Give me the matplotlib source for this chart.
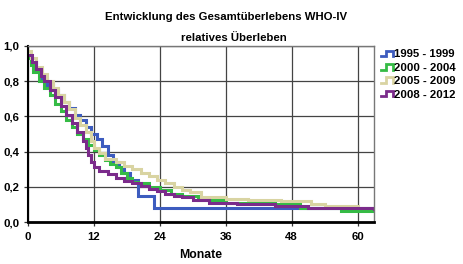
import matplotlib
matplotlib.use("Agg")
import matplotlib.pyplot as plt
from matplotlib.lines import Line2D
from matplotlib.legend_handler import HandlerBase

plt.rcParams['font.family'] = ['Liberation Sans', 'DejaVu Sans']
plt.rcParams['font.weight'] = 'bold'

# Kaplan-Meier style step data (months, relative survival)
t_1995 = [0, 0.5, 1.5, 2.5, 3.5, 4.5, 5.5, 6.5, 7.5, 8.5, 9.5, 10.5, 11.5,
          12.5, 13.5, 14.5, 15.5, 16.5, 17.5, 18.5, 20, 23, 63]
s_1995 = [0.95, 0.91, 0.86, 0.81, 0.78, 0.75, 0.72, 0.68, 0.65, 0.61, 0.58,
          0.54, 0.50, 0.47, 0.43, 0.38, 0.34, 0.31, 0.28, 0.24, 0.15, 0.08, 0.08]

t_2000 = [0, 0.5, 1, 2, 3, 4, 5, 6, 7, 8, 9, 10, 11, 12, 13, 14, 15, 16, 17,
          18, 19, 20, 22, 24, 26, 28, 31, 36, 45, 49.5, 57, 63]
s_2000 = [0.93, 0.89, 0.85, 0.80, 0.76, 0.72, 0.67, 0.63, 0.58, 0.54, 0.50,
          0.47, 0.44, 0.41, 0.38, 0.35, 0.33, 0.31, 0.28, 0.25, 0.23, 0.22,
          0.20, 0.18, 0.16, 0.145, 0.125, 0.11, 0.10, 0.08, 0.065, 0.065]

t_2005 = [0, 0.5, 1.5, 2.5, 3.5, 4.5, 5.5, 6.5, 7.5, 8.5, 9.5, 10.5, 11.5,
          12, 13, 14, 16, 17.5, 19, 20.5, 22, 23.5, 25, 26.5, 28, 29.5, 31.5,
          36, 40, 46, 51.5, 54, 60, 63]
s_2005 = [0.97, 0.93, 0.88, 0.84, 0.80, 0.76, 0.72, 0.68, 0.64, 0.59, 0.55,
          0.51, 0.46, 0.42, 0.39, 0.36, 0.34, 0.32, 0.30, 0.28, 0.26, 0.24,
          0.22, 0.20, 0.18, 0.17, 0.14, 0.13, 0.125, 0.12, 0.10, 0.09, 0.08, 0.08]

t_2008 = [0, 0.7, 1.5, 2.3, 3, 4, 5, 6, 7, 8, 9, 10, 10.5, 11, 11.5, 12, 13,
          14.5, 16, 17.5, 19, 20.5, 22, 23.5, 25, 26.5, 28, 30, 33, 38, 45,
          51, 63]
s_2008 = [0.95, 0.91, 0.87, 0.83, 0.80, 0.75, 0.71, 0.66, 0.61, 0.56, 0.51,
          0.46, 0.42, 0.38, 0.34, 0.31, 0.29, 0.27, 0.25, 0.235, 0.22, 0.205,
          0.19, 0.175, 0.16, 0.15, 0.14, 0.125, 0.11, 0.10, 0.09, 0.08, 0.075]

labels = ["1995 - 1999", "2000 - 2004", "2005 - 2009", "2008 - 2012"]
colors = ["#3d5cbf", "#35bb45", "#d9d4a2", "#7b2b8b"]
x_ticks = [0, 12, 24, 36, 48, 60]
y_ticks = [0.0, 0.2, 0.4, 0.6, 0.8, 1.0]


class StepHandler(HandlerBase):
    # little step icon like the SPSS legend
    def create_artists(self, legend, orig_handle, xdescent, ydescent,
                       width, height, fontsize, trans):
        w, h = width, height
        xs = [0, 0.45 * w, 0.45 * w, w, w]
        ys = [0.15 * h, 0.15 * h, 0.85 * h, 0.85 * h, 0.15 * h]
        ln = Line2D([x - xdescent for x in xs], [y - ydescent for y in ys],
                    color=orig_handle.get_color(), lw=2.0,
                    solid_joinstyle='miter')
        ln.set_transform(trans)
        return [ln]


fig = plt.figure(figsize=(4.64, 2.64), dpi=100)
ax = fig.add_axes([0.0603, 0.159, 0.7457, 0.667])

series = [(t_1995, s_1995), (t_2000, s_2000), (t_2005, s_2005), (t_2008, s_2008)]
handles = []
for (t, s), c, lab in zip(series, colors, labels):
    h, = ax.step(t, s, where='post', color=c, lw=2.2, label=lab,
                 solid_joinstyle='miter')
    handles.append(h)

ax.set_xlim(0, 63)
ax.set_ylim(0, 1.0)
ax.set_xticks(x_ticks)
ax.set_yticks(y_ticks)
ax.set_yticklabels([f"{v:.1f}".replace(".", ",") for v in y_ticks])
ax.grid(True, color="#444444", lw=0.9)
ax.set_axisbelow(True)
ax.tick_params(length=3, width=0.9, color="#333333", labelsize=8.2, pad=3)
ax.tick_params(axis='x', pad=4)
for lab in ax.get_xticklabels() + ax.get_yticklabels():
    lab.set_fontweight('bold')

ax.spines['bottom'].set_linewidth(2)
ax.spines['left'].set_linewidth(1.5)
for sp in ('top', 'right'):
    ax.spines[sp].set_color("#777777")
    ax.spines[sp].set_linewidth(1)

ax.set_xlabel("Monate", fontsize=8.8, fontweight='bold', labelpad=5)

fig.text(0.487, 0.935, "Entwicklung des Gesamtüberlebens WHO-IV",
         ha='center', va='center', fontsize=8.2, fontweight='bold')
fig.text(0.505, 0.855, "relatives Überleben",
         ha='center', va='center', fontsize=8.2, fontweight='bold')

fig.legend(handles=handles, labels=labels, loc='upper left',
           bbox_to_anchor=(0.812, 0.83), frameon=False, fontsize=8.2,
           handler_map={Line2D: StepHandler()}, handlelength=1.0,
           handletextpad=0.1, labelspacing=0.3, borderaxespad=0)

fig.savefig("out.png", dpi=100)
